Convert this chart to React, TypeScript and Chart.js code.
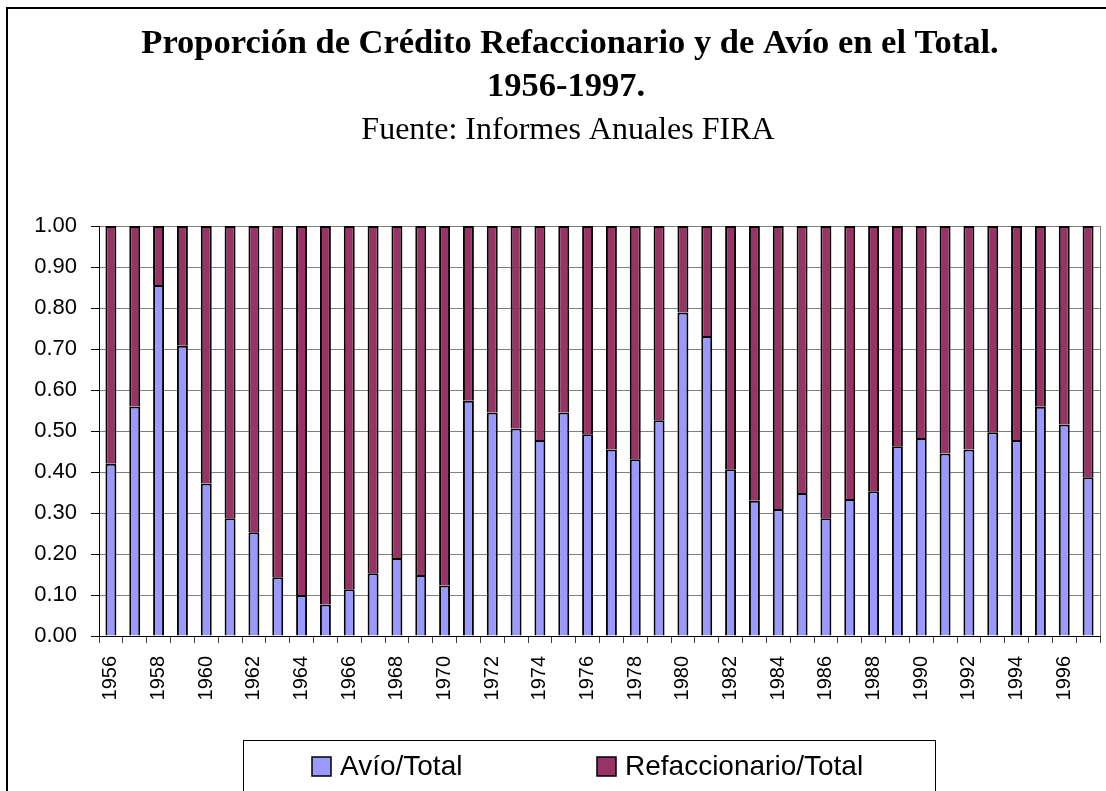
import React, { useEffect, useRef } from 'react';
import { Chart, registerables } from 'chart.js';

Chart.register(...registerables);

const years = [
  '1956', '1957', '1958', '1959', '1960', '1961', '1962', '1963', '1964', '1965', '1966', '1967', '1968', '1969',
  '1970', '1971', '1972', '1973', '1974', '1975', '1976', '1977', '1978', '1979', '1980', '1981', '1982', '1983',
  '1984', '1985', '1986', '1987', '1988', '1989', '1990', '1991', '1992', '1993', '1994', '1995', '1996', '1997',
];

const avioTotal = [
  0.42, 0.56, 0.856, 0.708, 0.372, 0.287, 0.253, 0.143, 0.1, 0.077, 0.114, 0.153, 0.19, 0.149,
  0.123, 0.574, 0.545, 0.506, 0.478, 0.545, 0.492, 0.455, 0.431, 0.526, 0.789, 0.732, 0.407, 0.33,
  0.31, 0.349, 0.287, 0.334, 0.353, 0.463, 0.483, 0.445, 0.455, 0.497, 0.478, 0.559, 0.516, 0.387,
];

const refaccionarioTotal = [
  0.58, 0.44, 0.144, 0.292, 0.628, 0.713, 0.747, 0.857, 0.9, 0.923, 0.886, 0.847, 0.81, 0.851,
  0.877, 0.426, 0.455, 0.494, 0.522, 0.455, 0.508, 0.545, 0.569, 0.474, 0.211, 0.268, 0.593, 0.67,
  0.69, 0.651, 0.713, 0.666, 0.647, 0.537, 0.517, 0.555, 0.545, 0.503, 0.522, 0.441, 0.484, 0.613,
];

const titleLines = ['Proporción de Crédito Refaccionario y de Avío en el Total.', '1956-1997.'];
const subtitleText = 'Fuente: Informes Anuales FIRA';
const seriesLabels = ['Avío/Total', 'Refaccionario/Total'];
const seriesColors = ['#9999FF', '#993366'];

const decorPlugin = {
  id: 'decor',
  beforeDraw(chart: any) {
    const ctx = chart.ctx;
    ctx.save();
    ctx.fillStyle = '#ffffff';
    ctx.fillRect(0, 0, chart.width, chart.height);
    ctx.restore();
  },
  afterDraw(chart: any) {
    const ctx = chart.ctx;
    const area = chart.chartArea;
    ctx.save();
    // outer chart frame
    ctx.strokeStyle = '#000000';
    ctx.lineWidth = 2;
    ctx.strokeRect(7, 8, chart.width + 20, chart.height + 20);

    // plot right border
    ctx.strokeStyle = '#808080';
    ctx.lineWidth = 1;
    ctx.beginPath();
    ctx.moveTo(Math.round(area.right) + 0.5, area.top);
    ctx.lineTo(Math.round(area.right) + 0.5, area.bottom);
    ctx.stroke();

    // titles
    ctx.fillStyle = '#000000';
    ctx.textAlign = 'center';
    ctx.textBaseline = 'alphabetic';
    ctx.font = 'bold 34.5px "Liberation Serif", "Times New Roman", serif';
    ctx.fillText(titleLines[0], 570, 53);
    ctx.fillText(titleLines[1], 566, 96);
    ctx.font = '32px "Liberation Serif", "Times New Roman", serif';
    ctx.fillText(subtitleText, 568, 139);

    // legend
    ctx.strokeStyle = '#000000';
    ctx.lineWidth = 1;
    ctx.strokeRect(243.5, 740.5, 692, 100);
    const items = [
      { x: 312, i: 0 },
      { x: 597, i: 1 },
    ];
    ctx.font = '28px "Liberation Sans", Arial, sans-serif';
    ctx.textAlign = 'left';
    ctx.textBaseline = 'middle';
    items.forEach((it) => {
      const ds = chart.data.datasets[it.i];
      ctx.fillStyle = ds.backgroundColor;
      ctx.fillRect(it.x, 757, 19, 19);
      ctx.strokeStyle = '#000000';
      ctx.lineWidth = 1.5;
      ctx.strokeRect(it.x, 757, 19, 19);
      ctx.fillStyle = '#000000';
      ctx.fillText(ds.label, it.x + 28, 767);
    });
    ctx.restore();
  },
};

export default function App() {
  const ref = useRef<HTMLCanvasElement | null>(null);

  useEffect(() => {
    document.body.style.margin = '0';
    const canvas = ref.current;
    if (!canvas) return;
    const chart = new Chart(canvas, {
      type: 'bar',
      data: {
        labels: years,
        datasets: [
          {
            label: seriesLabels[0],
            data: avioTotal,
            backgroundColor: seriesColors[0],
            borderColor: '#000000',
            borderWidth: 2,
            barPercentage: 0.46,
            categoryPercentage: 1,
          },
          {
            label: seriesLabels[1],
            data: refaccionarioTotal,
            backgroundColor: seriesColors[1],
            borderColor: '#000000',
            borderWidth: 2,
            barPercentage: 0.46,
            categoryPercentage: 1,
          },
        ],
      },
      options: {
        responsive: false,
        animation: false,
        devicePixelRatio: 1,
        layout: { padding: { top: 226, right: 6, left: 0, bottom: 0 } },
        plugins: {
          legend: { display: false },
          title: { display: false },
          tooltip: { enabled: false },
        },
        scales: {
          x: {
            stacked: true,
            grid: {
              display: true,
              drawOnChartArea: false,
              offset: true,
              tickLength: 7,
              tickColor: '#404040',
            },
            border: { display: true, color: '#000000', width: 1 },
            ticks: {
              autoSkip: false,
              minRotation: 90,
              maxRotation: 90,
              padding: 13,
              color: '#000000',
              font: { family: '"Liberation Sans", Arial, sans-serif', size: 20 },
              callback: (_v: any, i: number) => (i % 2 === 0 ? years[i] : ''),
            },
            afterFit: (scale: any) => {
              scale.height = 155;
              scale.paddingLeft = 0;
              scale.paddingRight = 0;
            },
          },
          y: {
            stacked: true,
            min: 0,
            max: 1,
            grid: {
              color: '#808080',
              tickLength: 8,
              tickColor: '#000000',
              lineWidth: 1,
            },
            border: { display: true, color: '#000000', width: 1 },
            ticks: {
              stepSize: 0.1,
              padding: 14,
              color: '#000000',
              font: { family: '"Liberation Sans", Arial, sans-serif', size: 22 },
              callback: (v: any) => Number(v).toFixed(2),
            },
            afterFit: (scale: any) => {
              scale.width = 99;
            },
          },
        },
      },
      plugins: [decorPlugin],
    });
    return () => chart.destroy();
  }, []);

  return <canvas ref={ref} width={1106} height={791} style={{ display: 'block', width: 1106, height: 791 }} />;
}
